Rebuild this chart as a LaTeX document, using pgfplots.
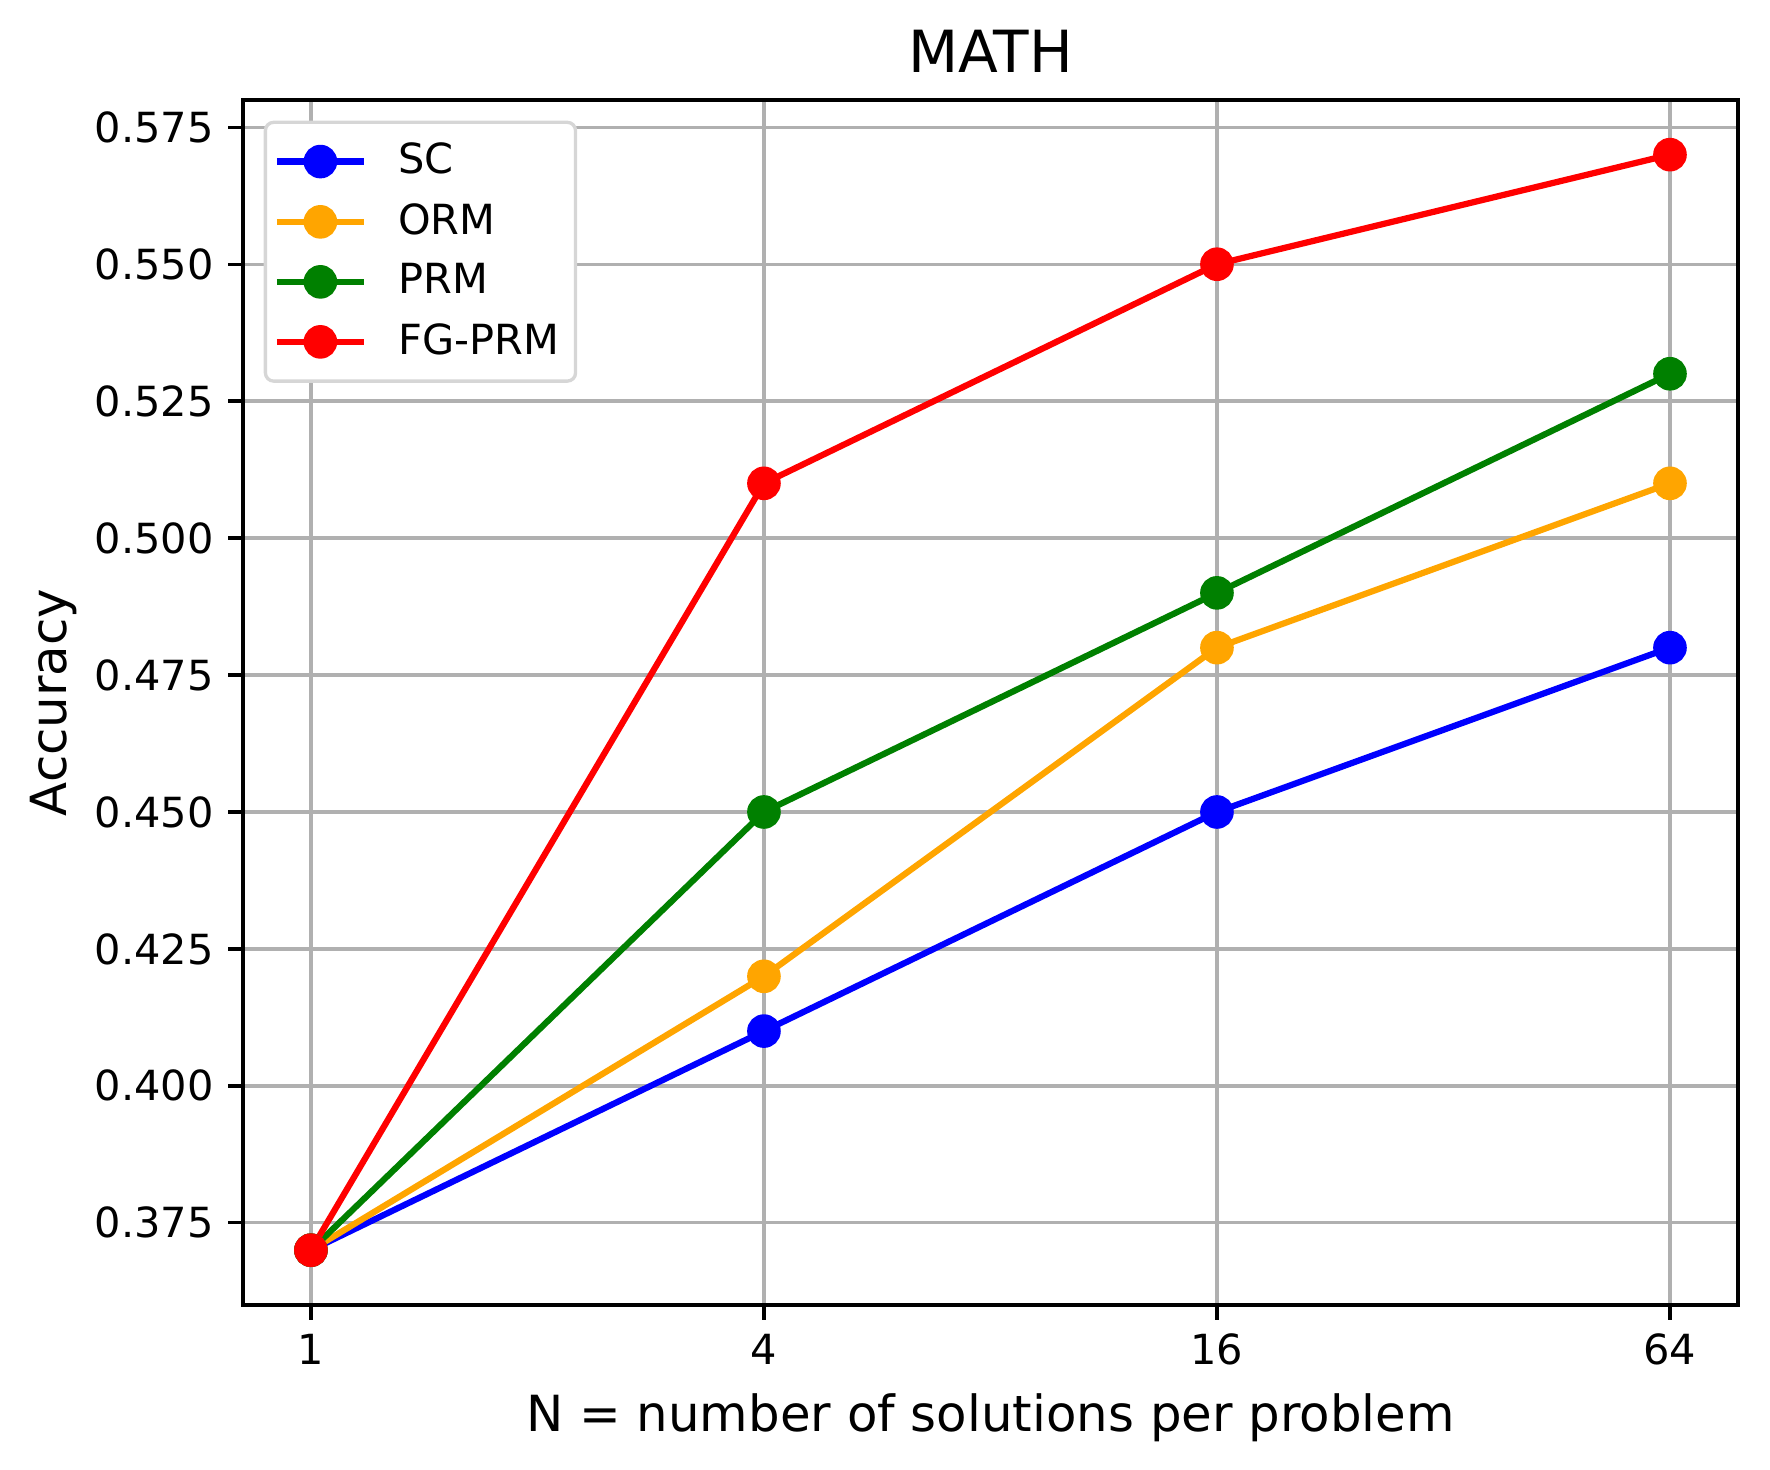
\documentclass[border=0pt]{standalone}
\usepackage{pgfplots}
\pgfplotsset{compat=1.18}
\usepackage{fontspec}
\setmainfont{DejaVu Sans}

\definecolor{mplorange}{HTML}{FFA500}
\definecolor{mplgreen}{HTML}{008000}
\definecolor{gridgray}{HTML}{B0B0B0}
\definecolor{legframe}{HTML}{D6D6D6}

\begin{document}
\begin{tikzpicture}
\begin{axis}[
    name=main,
    scale only axis,
    width=4.983in, height=4.017in,
    xmode=log, log basis x=2,
    xmin=0.8123, xmax=78.79,
    ymin=0.36, ymax=0.58,
    xtick={1,4,16,64},
    xticklabels={1,4,16,64},
    minor x tick num=0,
    xminorticks=false,
    ytick={0.375,0.4,0.425,0.45,0.475,0.5,0.525,0.55,0.575},
    yticklabel style={/pgf/number format/.cd, fixed, fixed zerofill, precision=3},
    /pgf/number format/assume math mode=true,
    ticklabel style={font=\fontsize{10}{12}\selectfont},
    tick align=outside,
    xtick pos=bottom, ytick pos=left,
    major tick length=3.5pt,
    tick style={black, line width=0.8pt},
    axis line style={line width=0.8pt},
    grid=major,
    grid style={gridgray, line width=0.8pt},
    title={MATH},
    title style={font=\fontsize{14}{16}\selectfont, yshift=-3pt},
    xlabel={N = number of solutions per problem},
    ylabel={Accuracy},
    ylabel shift=-2.5pt,
    label style={font=\fontsize{12}{14}\selectfont},
    legend style={at={(0,1)}, anchor=north west, xshift=5pt, yshift=-5pt,
        draw=legframe, line width=0.8pt, rounded corners=2pt,
        font=\fontsize{10}{12}\selectfont, row sep=1.6pt,
        inner xsep=2pt, inner ysep=3pt},
    legend cell align=left,
    legend image code/.code={
        \draw[mark repeat=2, mark phase=2] plot coordinates {(0pt,0pt)(10.5pt,0pt)(21pt,0pt)};
        \path (0pt,0pt) (26.5pt,0pt);
    },
    every axis plot/.append style={line width=1.5pt, mark=*, mark size=3.3pt, mark options={solid, line width=0pt}},
]
\addplot[blue, mark options={fill=blue}] coordinates {(1,0.37)(4,0.41)(16,0.45)(64,0.48)};
\addlegendentry{SC}
\addplot[mplorange, mark options={fill=mplorange}] coordinates {(1,0.37)(4,0.42)(16,0.48)(64,0.51)};
\addlegendentry{ORM}
\addplot[mplgreen, mark options={fill=mplgreen}] coordinates {(1,0.37)(4,0.45)(16,0.49)(64,0.53)};
\addlegendentry{PRM}
\addplot[red, mark options={fill=red}] coordinates {(1,0.37)(4,0.51)(16,0.55)(64,0.57)};
\addlegendentry{FG-PRM}
\end{axis}
\pgfresetboundingbox
\path ([shift={(-0.81in,-0.55in)}]main.south west) rectangle ([shift={(0.107in,0.333in)}]main.north east);
\end{tikzpicture}
\end{document}
